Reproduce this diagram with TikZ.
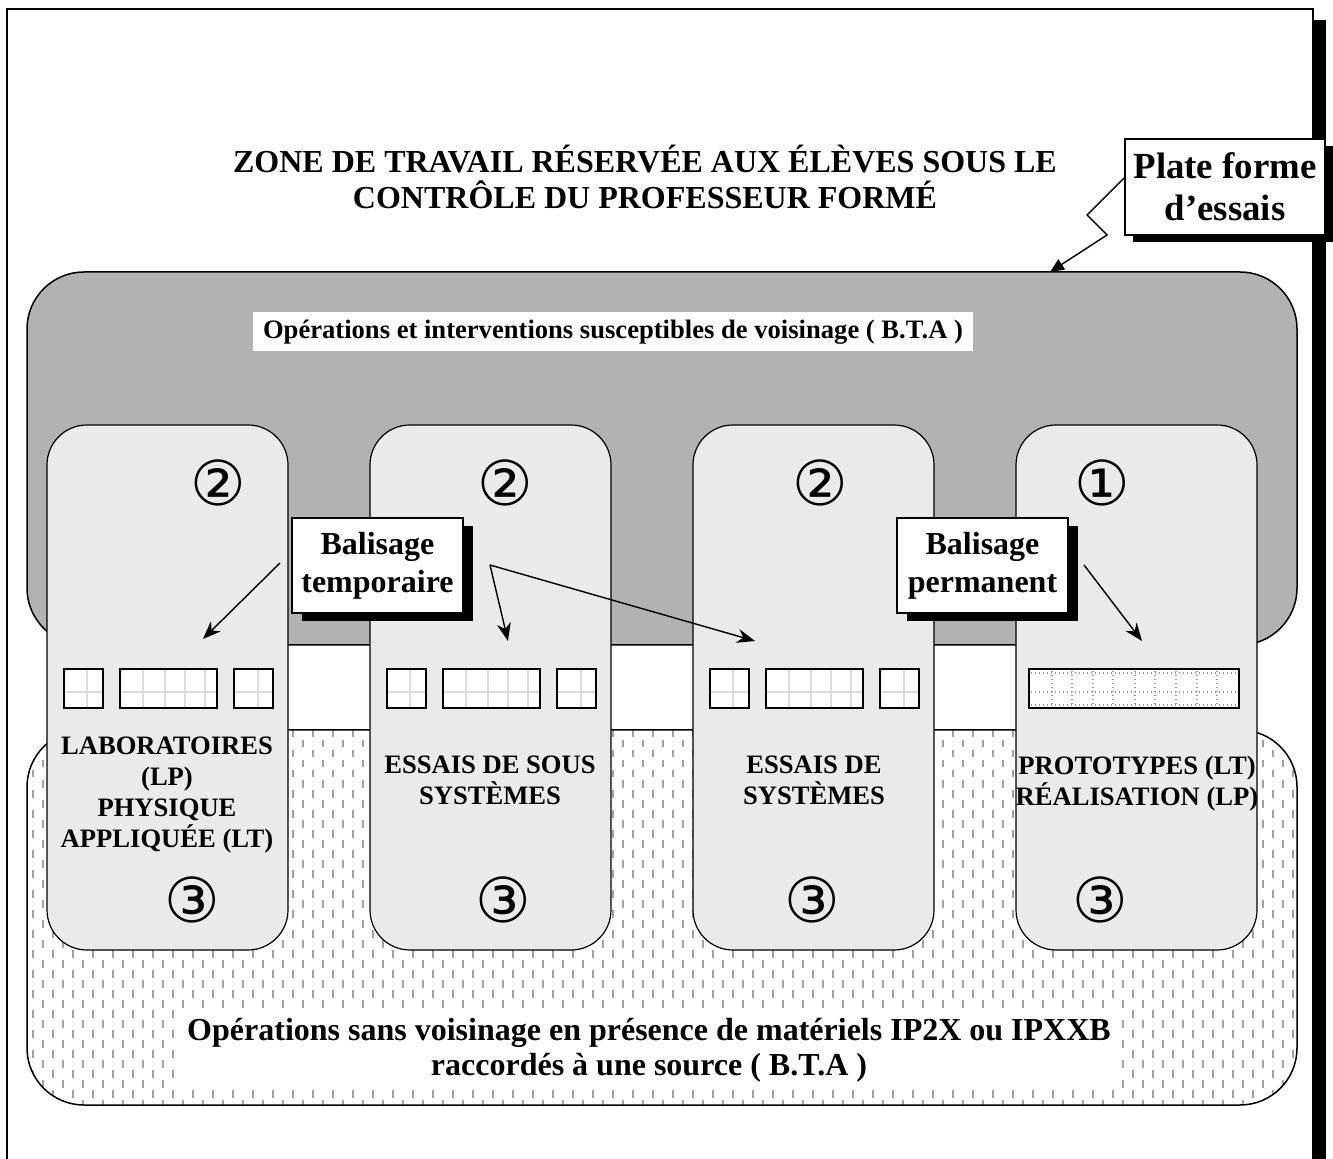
\documentclass[tikz,border=0pt]{standalone}
\usepackage{fontspec}
\setmainfont{Liberation Serif}
\newfontfamily\djv{DejaVu Sans}
\usetikzlibrary{arrows.meta}
\definecolor{regiongray}{RGB}{178,178,178}
\definecolor{colfill}{RGB}{234,234,234}
\definecolor{dashgray}{RGB}{160,160,160}
\definecolor{gridgray}{RGB}{220,220,220}
\begin{document}
\begin{tikzpicture}[x=0.5pt,y=-0.5pt,
  region/.style={draw=black, line width=0.75pt, rounded corners=28.5pt},
  column/.style={draw=black, line width=0.6pt, fill=colfill, rounded corners=20pt, minimum width=120.5pt, minimum height=262.5pt, inner sep=0pt},
  slot/.style={draw=black, line width=0.9pt, fill=white},
  gridln/.style={draw=gridgray, line width=0.7pt},
  dotgrid/.style={draw=gray!80, line width=0.6pt, dash pattern=on 0.6pt off 1.4pt},
  dashline/.style={draw=dashgray, line width=1pt, dash pattern=on 3.75pt off 6.25pt},
  titletext/.style={font=\bfseries\fontsize{16}{18}\selectfont, align=center, inner sep=0pt},
  coltext/.style={font=\bfseries\fontsize{13.3}{15.5}\selectfont, align=center, inner sep=0pt},
  toplabel/.style={font=\bfseries\fontsize{13.3}{15.5}\selectfont, fill=white, inner xsep=5pt, minimum height=19.5pt},
  bottomtext/.style={font=\bfseries\fontsize{16}{17.5}\selectfont, align=center, fill=white, inner xsep=4pt, minimum height=40pt},
  circnum/.style={font=\djv\fontsize{31}{31}\selectfont, inner sep=0pt},
  tag/.style={draw=black, line width=0.9pt, fill=white, align=center, font=\bfseries\fontsize{16}{19}\selectfont, minimum width=85.5pt, minimum height=47.5pt, inner sep=0pt, preaction={fill=black, transform canvas={shift={(5pt,-4pt)}}}},
  bigtag/.style={draw=black, line width=0.9pt, fill=white, align=center, font=\bfseries\fontsize{18.4}{21}\selectfont, minimum width=100pt, minimum height=48pt, inner sep=0pt, preaction={fill=black, transform canvas={shift={(4pt,-3.5pt)}}}},
  pointer/.style={-{Stealth[length=9pt,width=7pt]}, line width=0.7pt},
  callout/.style={-{Triangle[length=7pt,width=6pt]}, line width=0.7pt},
]
\useasboundingbox (0,0) rectangle (1333,1159);
% outer frame with shadow bar
\fill[black] (1313,20) rectangle (1326,1175);
\draw[line width=1.25pt] (7,1175) -- (7,9) -- (1313,9) -- (1313,1175);

% title
\node[titletext] (title) at (645,177) {ZONE DE TRAVAIL RÉSERVÉE AUX ÉLÈVES SOUS LE\\CONTRÔLE DU PROFESSEUR FORMÉ};

% grey region
\draw[region, fill=regiongray] (27,272) rectangle (1297,645);
\node[toplabel] (voisin) at (613,332) {Opérations et interventions susceptibles de voisinage ( B.T.A )};

% dotted region
\fill[white, rounded corners=28.5pt] (27,730) rectangle (1297,1105);
\begin{scope}
  \clip[rounded corners=28.5pt] (27,730) rectangle (1297,1105);
  \foreach \x in {33,53,...,1297} \draw[dashline] (\x,730) -- (\x,1105);
  \foreach \x in {43,63,...,1297} \draw[dashline, dash phase=5pt] (\x,730) -- (\x,1105);
\end{scope}
\draw[region] (27,730) rectangle (1297,1105);
\node[bottomtext] (sans) at (649,1050) {Opérations sans voisinage en présence de matériels IP2X ou IPXXB\\raccordés à une source ( B.T.A )};

% columns
\node[column] (col1) at (167.5,687.5) {};
\node[column] (col2) at (490.5,687.5) {};
\node[column] (col3) at (813.5,687.5) {};
\node[column] (col4) at (1136.5,687.5) {};

% slots (columns 1-3)
\foreach \cx in {47,370,693} {
  \filldraw[slot] (\cx+17,669) rectangle (\cx+56,708);
  \draw[gridln] (\cx+40,670) -- (\cx+40,707) (\cx+18,692) -- (\cx+55,692);
  \draw[slot, fill=none] (\cx+17,669) rectangle (\cx+56,708);
  \filldraw[slot] (\cx+73,669) rectangle (\cx+170,708);
  \draw[gridln] (\cx+96,670) -- (\cx+96,707) (\cx+118,670) -- (\cx+118,707)
                (\cx+138,670) -- (\cx+138,707) (\cx+158,670) -- (\cx+158,707)
                (\cx+74,692) -- (\cx+169,692);
  \draw[slot, fill=none] (\cx+73,669) rectangle (\cx+170,708);
  \filldraw[slot] (\cx+187,669) rectangle (\cx+226,708);
  \draw[gridln] (\cx+211,670) -- (\cx+211,707) (\cx+188,692) -- (\cx+225,692);
  \draw[slot, fill=none] (\cx+187,669) rectangle (\cx+226,708);
}
% slot column 4
\filldraw[slot] (1029,669) rectangle (1239,708);
\foreach \x in {1052,1072,1093,1113,1135,1155,1176,1197,1217}
  \draw[dotgrid] (\x,671) -- (\x,706);
\draw[dotgrid] (1031,673) -- (1237,673) (1031,692) -- (1237,692) (1031,705) -- (1237,705);
\draw[slot, fill=none] (1029,669) rectangle (1239,708);

% column texts
\node[coltext] (t1) at (167,795) {LABORATOIRES\\(LP)\\PHYSIQUE\\APPLIQUÉE (LT)};
\node[coltext] (t2) at (490,780) {ESSAIS DE SOUS\\SYSTÈMES};
\node[coltext] (t3) at (814,780) {ESSAIS DE\\SYSTÈMES};
\node[coltext] (t4) at (1137,784) {PROTOTYPES (LT)\\RÉALISATION (LP)};

% circled numbers
\node[circnum] (n1) at (218,483) {②};
\node[circnum] (n2) at (505,483) {②};
\node[circnum] (n3) at (820,483) {②};
\node[circnum] (n4) at (1102,483) {①};
\node[circnum] (m1) at (192,900) {③};
\node[circnum] (m2) at (503,900) {③};
\node[circnum] (m3) at (812,900) {③};
\node[circnum] (m4) at (1100,900) {③};

% balisage tags
\node[tag] (btemp) at (377.5,565.5) {Balisage\\temporaire};
\node[tag] (bperm) at (982.5,565.5) {Balisage\\permanent};
\coordinate (a1s) at (280,563);
\coordinate (a1e) at (203,639);
\coordinate (a2s) at (490,565);
\coordinate (a2e) at (508,641);
\coordinate (a3e) at (755,641);
\coordinate (a4s) at (1084,565);
\coordinate (a4e) at (1142,641);
\draw[pointer] (a1s) -- (a1e);
\draw[pointer] (a2s) -- (a2e);
\draw[pointer] (a2s) -- (a3e);
\draw[pointer] (a4s) -- (a4e);

% plate forme callout
\node[bigtag] (pf) at (1225,187) {Plate forme\\d’essais};
\coordinate (z1) at (1087,215);
\coordinate (z2) at (1107,235);
\coordinate (pft) at (1050,272);
\draw[callout] ([yshift=4.5pt]pf.west) -- (z1) -- (z2) -- (pft);
\end{tikzpicture}
\end{document}
